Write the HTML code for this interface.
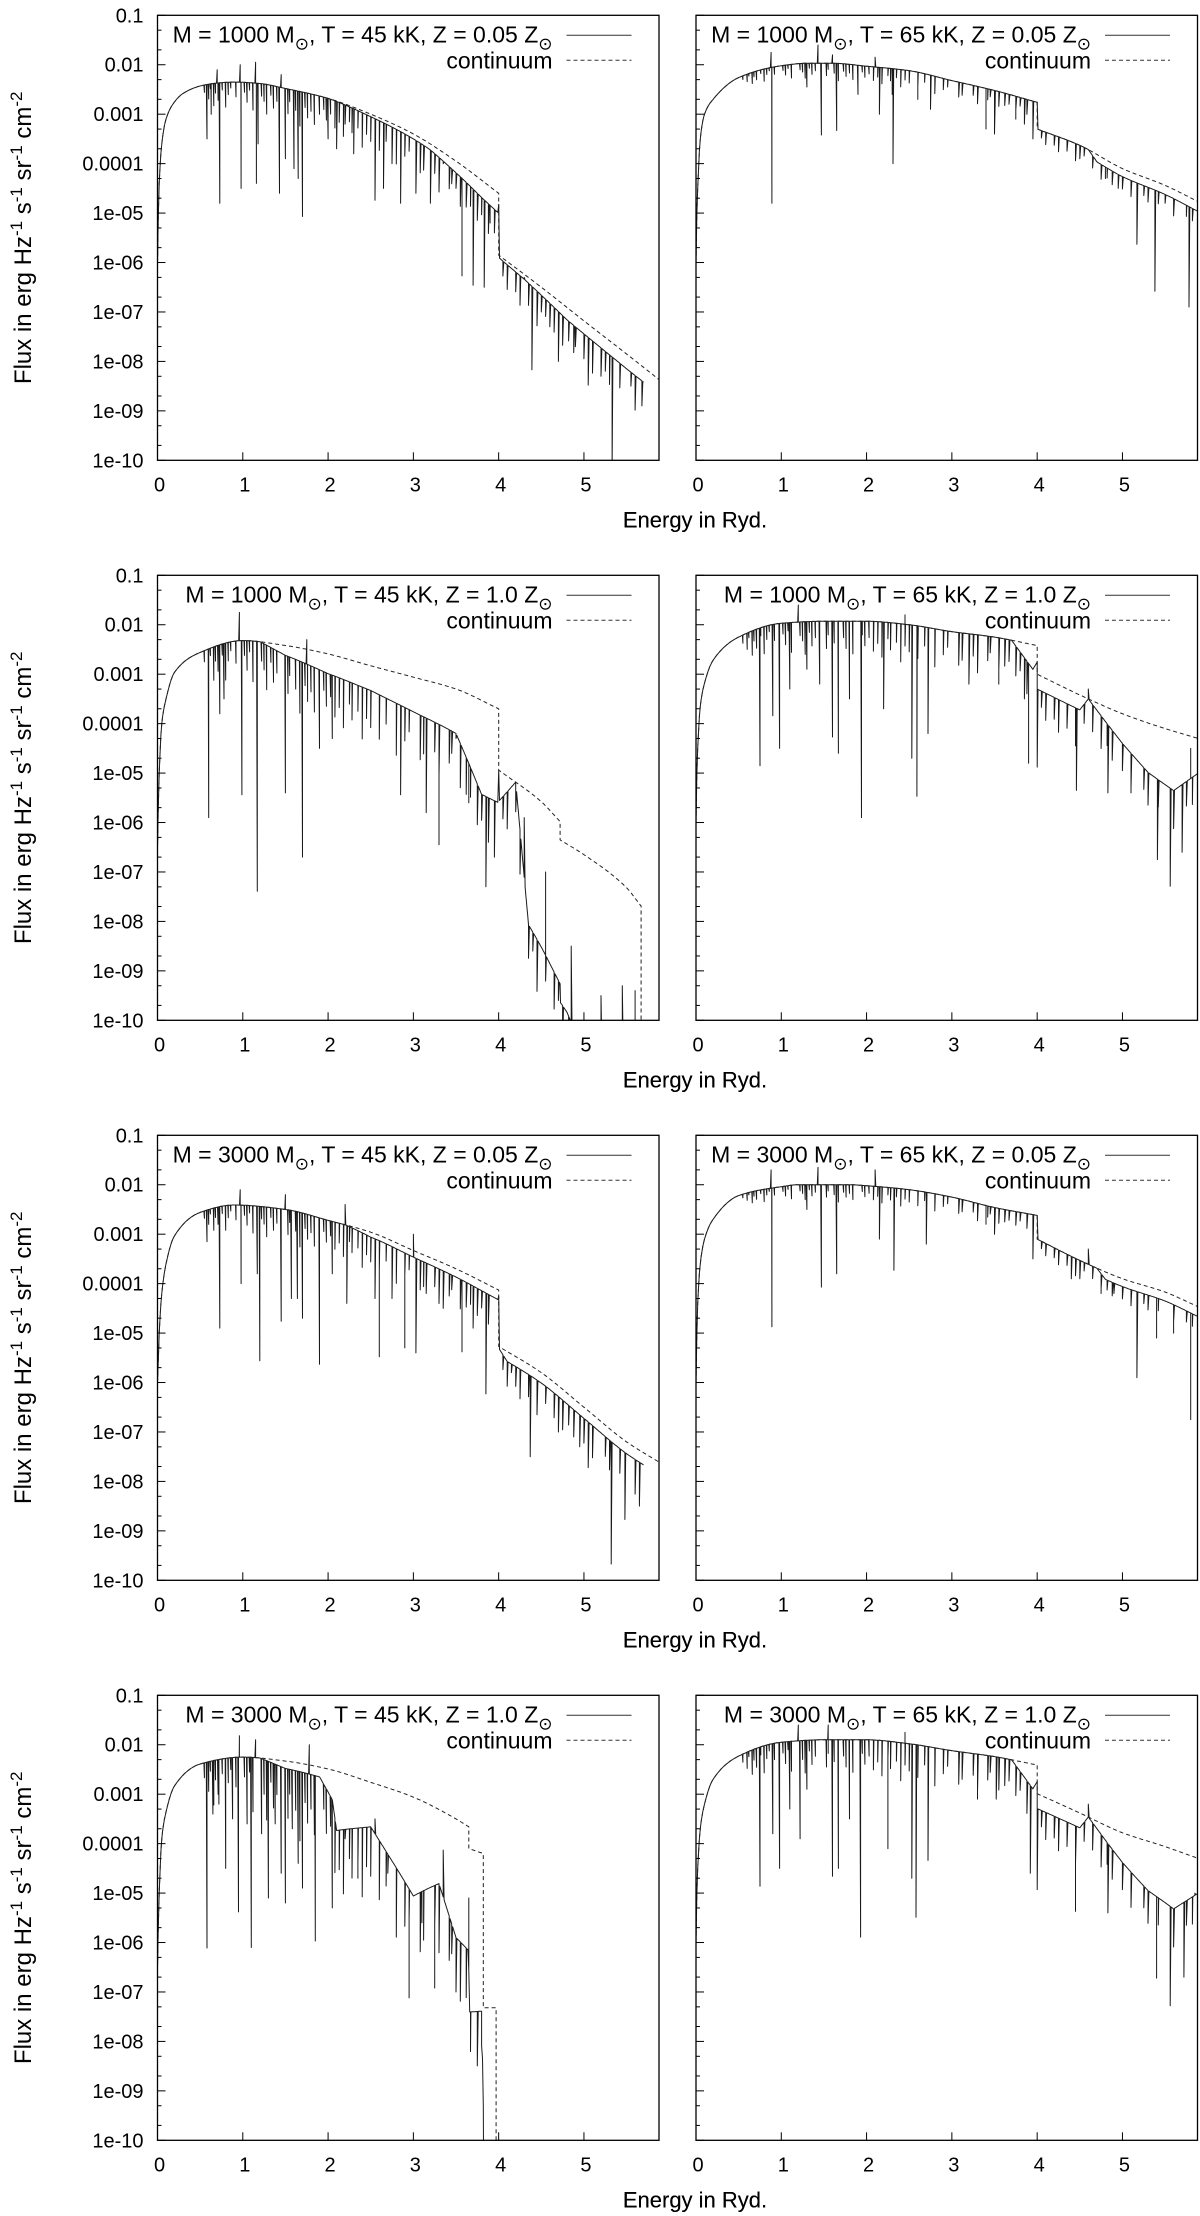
<!DOCTYPE html>
<html><head><meta charset="utf-8">
<style>
html,body{margin:0;padding:0;background:#fff;overflow:hidden;width:1200px;height:2216px;}
svg{display:block;font-family:"Liberation Sans","DejaVu Sans",sans-serif;overflow:hidden;}
</style></head>
<body>
<svg id="fig" width="1200" height="2216" viewBox="0 0 1200 2216" xmlns="http://www.w3.org/2000/svg"></svg>
<script>
// ---------- DATA (energy in Ryd, flux as log10) ----------
const panelTitles = ["1000|45|0.05","1000|65|0.05","1000|45|1.0","1000|65|1.0","3000|45|0.05","3000|65|0.05","3000|45|1.0","3000|65|1.0"];
const yTickLabels = ["0.1","0.01","0.001","0.0001","1e-05","1e-06","1e-07","1e-08","1e-09","1e-10"];
const xTickLabels = ["0","1","2","3","4","5"];

// weak-line texture (energy, depth in dex), scaled per panel
const minorE = [0.55,0.6,0.62,0.66,0.68,0.71,0.76,0.8,0.83,0.86,0.92,1.02,1.05,1.08,1.12,1.22,1.25,1.28,1.33,1.36,1.4,1.53,1.55,1.62,1.67,1.73,1.76,1.8,1.84,1.95,1.98,2.03,2.08,2.13,2.18,2.25,2.28,2.35,2.4,2.45,2.5,2.6,2.68,2.8,2.9,2.95,3.08,3.12,3.25,3.3,3.42,3.45,3.55,3.62,3.67,3.75,3.8,3.88,4.05,4.1,4.2,4.25,4.35,4.45,4.55,4.65,4.75,4.82,4.88,5.0,5.1,5.25,5.3,5.42,5.6,5.75,5.82];
const minorD = [0.15,0.3,0.1,0.45,0.2,0.35,0.15,0.5,0.25,0.12,0.3,0.2,0.4,0.15,0.55,0.25,0.35,0.6,0.2,0.45,0.3,0.5,0.25,0.4,0.7,0.3,0.5,0.35,0.6,0.25,0.45,0.3,0.55,0.4,0.65,0.3,0.5,0.35,0.7,0.4,0.5,0.6,0.35,0.7,0.45,0.3,0.6,0.5,0.4,0.7,0.45,0.3,0.6,0.5,0.4,0.55,0.35,0.6,0.3,0.5,0.4,0.6,0.45,0.7,0.35,0.5,0.6,0.4,0.55,0.5,0.65,0.4,0.6,0.5,0.7,0.45,0.5];
const minorScale = [1.0,0.5,1.5,1.1,1.0,0.5,2.0,1.1];

// Panel A: 1000 Msun, 45 kK, 0.05 Z
const contE_A = [0,0.01,0.02,0.05,0.1,0.2,0.3,0.5,0.7,0.9,1.2,1.5,2,2.5,3,3.5,4,4,4.5,5,5.5,5.89];
const contF_A = [-6,-5,-4.4,-3.6,-3.1,-2.75,-2.58,-2.43,-2.37,-2.35,-2.38,-2.48,-2.68,-3.0,-3.4,-3.95,-4.6,-5.85,-6.5,-7.18,-7.85,-8.38];
const offE_A = [0,2,2.5,3.2,3.8,3.99,4.01,4.3,4.8,5.5,5.9];
const offV_A = [0,0,-0.05,-0.12,-0.35,-0.4,-0.05,-0.1,-0.25,-0.3,-0.3];
const lineE_A = [0.58,0.63,0.7,0.73,0.97,0.98,1.15,1.16,1.18,1.43,1.45,1.5,1.6,1.65,1.7,1.9,2.0,2.1,2.2,2.3,2.55,2.65,2.75,2.85,3.03,3.2,3.35,3.5,3.57,3.7,3.83,3.9,3.95,4.3,4.39,4.5,4.6,4.7,4.9,5.05,5.2,5.33,5.55,5.68];
const lineF_A = [-3.5,-3.0,-2.1,-4.8,-2.0,-4.5,-1.95,-4.4,-3.6,-4.6,-2.2,-3.9,-4.1,-4.3,-5.07,-3.0,-3.5,-3.7,-3.2,-3.8,-4.74,-4.5,-4.0,-4.8,-4.6,-4.8,-4.0,-4.5,-6.27,-6.46,-6.5,-5.2,-5.4,-6.3,-8.17,-7.0,-7.3,-8.0,-7.7,-8.48,-8.3,-10.2,-8.5,-8.9];
const specMax_A = 5.7;

// Panel B: 1000 Msun, 65 kK, 0.05 Z
const contE_B = [0,0.01,0.02,0.05,0.1,0.2,0.5,1.0,1.3,1.6,2,2.5,3,3.5,4,4,4.5,5,5.5,5.89];
const contF_B = [-6,-5,-4.5,-3.5,-3.0,-2.7,-2.26,-2.02,-1.97,-1.97,-2.03,-2.12,-2.32,-2.52,-2.76,-3.3,-3.63,-4.1,-4.44,-4.77];
const offE_B = [0,4.6,4.7,5.9];
const offV_B = [0,0,-0.15,-0.2];
const lineE_B = [0.88,0.89,1.3,1.43,1.47,1.6,1.65,1.9,2.1,2.15,2.3,2.31,2.6,2.75,3.4,3.5,3.75,3.85,3.95,4.5,4.8,4.95,5.17,5.38,5.5,5.6,5.78,5.89];
const lineF_B = [-1.75,-4.8,-2.45,-1.6,-3.42,-1.8,-3.33,-2.6,-1.85,-3.0,-2.6,-4.0,-2.7,-2.9,-3.3,-3.4,-3.1,-3.2,-3.5,-3.9,-4.3,-4.5,-5.63,-6.58,-4.8,-5.0,-6.9,-5.0];
const specMax_B = 5.89;

// Panel C: 1000 Msun, 45 kK, 1.0 Z
const contE_C = [0,0.01,0.02,0.05,0.1,0.2,0.5,1.0,1.5,2,2.5,3,3.5,4,4,4.5,4.72,4.72,5,5.5,5.67,5.67];
const contF_C = [-6.5,-5.6,-5,-4.0,-3.5,-2.96,-2.56,-2.32,-2.42,-2.59,-2.83,-3.06,-3.3,-3.7,-4.94,-5.58,-5.98,-6.35,-6.65,-7.32,-7.69,-10.5];
const offE_C = [0,1.2,1.5,2,2.5,3,3.5,3.8,3.99,4.01,4.2,4.35,4.6,4.8,5.0,5.67];
const offV_C = [0,0,-0.2,-0.4,-0.5,-0.7,-0.9,-1.9,-1.9,-0.6,0,-2.7,-3.1,-3.4,-4.0,-3.0];
const lineE_C = [0.6,0.73,0.78,0.96,0.99,1.17,1.5,1.7,1.75,1.9,2.05,2.6,2.85,3.15,3.3,3.5,3.65,3.85,3.95,4.3,4.4,4.55,4.7,4.85,5.05,5.2,5.35,5.45,5.6];
const lineF_C = [-5.9,-3.8,-3.5,-1.75,-5.44,-7.39,-5.4,-6.7,-2.3,-4.5,-4.3,-4.0,-5.44,-5.8,-6.45,-4.3,-5.6,-7.3,-6.7,-5.9,-8.6,-7.0,-9.6,-8.5,-10.5,-9.5,-10.5,-9.3,-9.4];
const specMax_C = 5.67;

// Panel D: 1000 Msun, 65 kK, 1.0 Z
const contE_D = [0,0.01,0.02,0.05,0.1,0.2,0.5,1.0,1.5,2.0,2.5,3,3.5,4,4,4.5,5,5.5,5.89];
const contF_D = [-6,-5,-4.5,-3.65,-3.18,-2.72,-2.25,-1.97,-1.93,-1.93,-2.0,-2.14,-2.25,-2.42,-3.0,-3.42,-3.8,-4.1,-4.3];
const offE_D = [0,3.7,3.95,4.01,4.5,4.6,5.0,5.3,5.6,5.89];
const offV_D = [0,0,-0.5,-0.3,-0.3,0,-0.6,-1.0,-1.2,-0.7];
const lineE_D = [0.75,0.9,0.98,1.1,1.2,1.3,1.45,1.6,1.67,1.8,1.94,2.2,2.45,2.53,2.59,2.72,3.2,3.55,3.85,3.9,4.0,4.46,4.6,4.83,5.0,5.1,5.41,5.56,5.7,5.8];
const lineF_D = [-4.85,-3.84,-4.5,-3.3,-1.6,-2.9,-3.2,-4.27,-4.6,-3.5,-5.9,-3.7,-1.8,-4.7,-5.47,-4.2,-3.2,-3.2,-3.5,-4.8,-4.88,-5.35,-3.3,-5.4,-4.6,-5.4,-6.75,-7.29,-6.6,-4.5];
const specMax_D = 5.89;

// Panel E: 3000 Msun, 45 kK, 0.05 Z
const contE_E = [0,0.01,0.02,0.05,0.1,0.2,0.5,0.9,1.5,2,2.5,3,3.5,4,4,4.5,5,5.5,5.89];
const contF_E = [-6,-5.5,-5,-4.2,-3.6,-3.03,-2.56,-2.41,-2.5,-2.72,-2.96,-3.33,-3.7,-4.13,-5.27,-5.8,-6.5,-7.2,-7.62];
const offE_E = [0,2.2,2.5,3.99,4.01,4.1,5.9];
const offV_E = [0,0,-0.1,-0.2,-0.05,-0.2,-0.25];
const lineE_E = [0.58,0.73,0.97,0.98,1.17,1.2,1.45,1.5,1.57,1.64,1.7,1.9,2.05,2.2,2.22,2.55,2.6,2.75,2.9,3.0,3.03,3.15,3.35,3.57,3.7,3.85,4.15,4.37,4.55,4.7,4.95,5.05,5.32,5.48,5.65];
const lineF_E = [-3.15,-4.9,-2.1,-4.0,-3.8,-5.56,-4.76,-2.2,-4.3,-4.3,-4.7,-5.63,-3.8,-2.4,-4.4,-4.3,-5.48,-4.3,-5.3,-3.0,-5.4,-4.2,-4.5,-5.38,-4.9,-6.23,-5.8,-7.5,-6.2,-7.0,-7.3,-7.72,-9.67,-8.77,-8.5];
const specMax_E = 5.7;

// Panel F: 3000 Msun, 65 kK, 0.05 Z
const contE_F = [0,0.01,0.02,0.05,0.1,0.2,0.5,1.0,1.2,1.8,2,2.5,3,3.5,4,4,4.5,5,5.5,5.89];
const contF_F = [-6,-5,-4.4,-3.6,-3.1,-2.7,-2.22,-2.04,-2.0,-2.0,-2.02,-2.1,-2.25,-2.46,-2.62,-3.1,-3.53,-3.9,-4.17,-4.47];
const offE_F = [0,4.7,4.8,5.9];
const offV_F = [0,0,-0.15,-0.2];
const lineE_F = [0.88,0.89,1.3,1.43,1.47,1.65,2.1,2.15,2.32,2.7,3.4,3.5,3.95,4.4,4.5,4.6,4.75,4.9,5.17,5.4,5.6,5.8,5.89];
const lineF_F = [-1.7,-4.87,-2.5,-1.65,-4.07,-3.8,-1.7,-3.1,-3.73,-3.2,-2.8,-3.0,-3.5,-3.9,-3.9,-3.3,-4.2,-4.2,-5.9,-5.1,-5.0,-6.75,-5.5];
const specMax_F = 5.89;

// Panel G: 3000 Msun, 45 kK, 1.0 Z
const contE_G = [0,0.01,0.02,0.05,0.1,0.2,0.5,1.0,1.5,2,2.5,3,3.5,3.65,3.65,3.82,3.82,3.97,3.97];
const contF_G = [-6.5,-5.6,-5,-3.9,-3.36,-2.83,-2.39,-2.25,-2.33,-2.49,-2.76,-3.06,-3.5,-3.66,-4.1,-4.2,-7.32,-7.32,-10.5];
const offE_G = [0,1.2,1.5,1.9,2.05,2.1,2.5,3.0,3.3,3.5,3.64,3.66,3.8,3.84];
const offV_G = [0,0,-0.15,-0.2,-0.6,-1.2,-0.9,-2.0,-1.5,-2.4,-2.5,-3.3,-3.2,-7];
const lineE_G = [0.58,0.65,0.72,0.8,0.88,0.95,0.96,1.05,1.1,1.15,1.22,1.3,1.38,1.45,1.5,1.58,1.65,1.7,1.78,1.85,2.05,2.2,2.35,2.55,2.7,2.95,3.1,3.25,3.35,3.5,3.65];
const lineF_G = [-6.11,-3.4,-3.2,-4.5,-3.5,-5.38,-1.82,-3.6,-6.1,-1.9,-3.8,-5.1,-3.6,-4.6,-5.2,-3.7,-4.4,-4.9,-2.0,-5.97,-5.3,-3.9,-4.7,-3.5,-4.6,-7.12,-5.6,-6.92,-4.13,-7.0,-5.1];
const specMax_G = 3.84;

// Panel H: 3000 Msun, 65 kK, 1.0 Z
const contE_H = [0,0.01,0.02,0.05,0.1,0.2,0.5,1.0,1.5,2.0,2.5,3,3.5,4,4,4.5,5,5.5,5.89];
const contF_H = [-6,-5,-4.5,-3.7,-3.2,-2.7,-2.23,-1.95,-1.9,-1.9,-1.98,-2.12,-2.24,-2.41,-2.99,-3.38,-3.78,-4.06,-4.3];
const offE_H = [0,3.7,3.95,4.01,4.5,4.6,5.0,5.3,5.6,5.89];
const offV_H = [0,0,-0.5,-0.3,-0.3,0,-0.6,-1.0,-1.2,-0.7];
const lineE_H = [0.75,0.9,0.98,1.1,1.2,1.22,1.3,1.55,1.6,1.67,1.8,1.93,2.25,2.45,2.53,2.58,2.72,3.3,3.52,3.92,4.0,4.45,4.6,4.83,5.1,5.4,5.56,5.72,5.85];
const lineF_H = [-4.86,-3.8,-4.5,-3.3,-1.6,-3.9,-2.9,-1.6,-4.66,-4.5,-3.5,-5.89,-4.1,-1.75,-4.7,-5.49,-4.34,-3.1,-3.1,-4.6,-4.93,-5.37,-3.2,-5.4,-4.7,-6.72,-7.28,-6.7,-5.0];
const specMax_H = 5.89;

// ---------- RENDERING ----------
const SVGNS = "http://www.w3.org/2000/svg";
const fig = document.getElementById("fig");
const panels = [
  {cE:contE_A,cF:contF_A,oE:offE_A,oV:offV_A,lE:lineE_A,lF:lineF_A,sm:specMax_A},
  {cE:contE_B,cF:contF_B,oE:offE_B,oV:offV_B,lE:lineE_B,lF:lineF_B,sm:specMax_B},
  {cE:contE_C,cF:contF_C,oE:offE_C,oV:offV_C,lE:lineE_C,lF:lineF_C,sm:specMax_C},
  {cE:contE_D,cF:contF_D,oE:offE_D,oV:offV_D,lE:lineE_D,lF:lineF_D,sm:specMax_D},
  {cE:contE_E,cF:contF_E,oE:offE_E,oV:offV_E,lE:lineE_E,lF:lineF_E,sm:specMax_E},
  {cE:contE_F,cF:contF_F,oE:offE_F,oV:offV_F,lE:lineE_F,lF:lineF_F,sm:specMax_F},
  {cE:contE_G,cF:contF_G,oE:offE_G,oV:offV_G,lE:lineE_G,lF:lineF_G,sm:specMax_G},
  {cE:contE_H,cF:contF_H,oE:offE_H,oV:offV_H,lE:lineE_H,lF:lineF_H,sm:specMax_H}
];
const COLX = [157.5, 696];
const ROWY = [15.3, 575.3, 1135.3, 1695.3];
const PW = 501.5, PH = 445, XMAX = 5.88;
const FS = 20;
const LFS = 23;

function mk(tag, attrs, parent){
  const e = document.createElementNS(SVGNS, tag);
  for (const k in attrs) e.setAttribute(k, attrs[k]);
  (parent||fig).appendChild(e);
  return e;
}
function interp(xs, ys, x){
  if (x <= xs[0]) return ys[0];
  for (let i=0;i<xs.length-1;i++){
    if (x >= xs[i] && x <= xs[i+1] && xs[i+1] > xs[i]){
      return ys[i] + (ys[i+1]-ys[i])*(x-xs[i])/(xs[i+1]-xs[i]);
    }
  }
  return ys[ys.length-1];
}
function makeRuns(xs, ys){
  const runs = []; let cur = {x:[xs[0]], y:[ys[0]]};
  for (let i=1;i<xs.length;i++){
    if (xs[i] === xs[i-1]) { runs.push(cur); cur = {x:[xs[i]], y:[ys[i]]}; }
    else { cur.x.push(xs[i]); cur.y.push(ys[i]); }
  }
  runs.push(cur);
  runs.forEach(r => {
    const n = r.x.length, d = [], m = new Array(n).fill(0);
    for (let i=0;i<n-1;i++) d.push((r.y[i+1]-r.y[i])/(r.x[i+1]-r.x[i]));
    if (n > 1) { m[0] = d[0]; m[n-1] = d[n-2]; }
    for (let i=1;i<n-1;i++){
      if (d[i-1]*d[i] <= 0) m[i] = 0;
      else { const h0 = r.x[i]-r.x[i-1], h1 = r.x[i+1]-r.x[i];
        const w1 = 2*h1+h0, w2 = h1+2*h0; m[i] = (w1+w2)/(w1/d[i-1]+w2/d[i]); }
    }
    r.m = m;
  });
  return runs;
}
function evalRun(r, x){
  const n = r.x.length;
  if (n === 1) return r.y[0];
  let i = 0; while (i < n-2 && x > r.x[i+1]) i++;
  const h = r.x[i+1]-r.x[i], t = Math.max(0, Math.min(1, (x-r.x[i])/h));
  const t2=t*t, t3=t2*t;
  return (2*t3-3*t2+1)*r.y[i] + (t3-2*t2+t)*h*r.m[i] + (-2*t3+3*t2)*r.y[i+1] + (t3-t2)*h*r.m[i+1];
}
function contAt(runs, x){
  for (let k=0;k<runs.length;k++){
    const r = runs[k];
    if (x <= r.x[r.x.length-1] || k === runs.length-1) return evalRun(r, x);
  }
}

panels.forEach((p, idx) => {
  const col = idx % 2, row = Math.floor(idx/2);
  const L = COLX[col], T = ROWY[row];
  const xs = e => L + e * PW / XMAX;
  const ys = f => T + (-1 - f) * PH / 9;
  const runs = makeRuns(p.cE, p.cF);
  const g = mk("g", {});
  
  
  const cid = "clip" + idx;
  const cp = mk("clipPath", {id: cid}, g);
  mk("rect", {x: L, y: T, width: PW, height: PH}, cp);

  // spectrum
  const base = e => contAt(runs, e) + interp(p.oE, p.oV, e);
  const pts = [];
  for (let e = 0; e <= p.sm + 1e-9; e += 0.01) pts.push([e, null]);
  [0.001,0.003,0.006].forEach(e => pts.push([e, null]));
  p.lE.forEach((e, i) => {
    const w = e < 3 ? 0.008 : 0.025;
    pts.push([e - w, null]); pts.push([e, p.lF[i]]); pts.push([e + w, null]);
  });
  minorE.forEach((e, i) => {
    if (e > p.sm) return;
    const w = e < 3 ? 0.006 : 0.02;
    pts.push([e - w, null]); pts.push([e, -minorD[i] * minorScale[idx], true]); pts.push([e + w, null]);
  });
  pts.sort((a, b) => a[0] - b[0]);
  let d = "";
  pts.forEach(([e, v, rel]) => {
    if (e < 0 || e > p.sm + 1e-9) return;
    const f = v === null ? base(e) : (rel ? base(e) + v : v);
    d += (d ? "L" : "M") + xs(e).toFixed(1) + "," + ys(f).toFixed(1);
  });
  const sp = mk("path", {d: d, fill: "none", stroke: "#1a1a1a", "stroke-width": 1, "stroke-linejoin": "round", "clip-path": "url(#" + cid + ")"}, g);
  
  

  // continuum
  let dc = "";
  runs.forEach(r => {
    const a = r.x[0], b = r.x[r.x.length-1];
    const steps = Math.max(1, Math.ceil((b - a) / 0.01));
    for (let s = 0; s <= steps; s++){
      const e = a + (b - a) * s / steps;
      dc += (dc ? "L" : "M") + xs(e).toFixed(1) + "," + ys(evalRun(r, e)).toFixed(1);
    }
  });
  const cl = mk("path", {d: dc, fill: "none", stroke: "#222", "stroke-width": 1, "stroke-dasharray": "4,3", "clip-path": "url(#" + cid + ")"}, g);
  
  

  // frame
  const fr = mk("rect", {x: L, y: T, width: PW, height: PH, fill: "none", stroke: "#000", "stroke-width": 1.3}, g);
  
  

  // y ticks
  yTickLabels.forEach((lab, k) => {
    const f = -1 - k;
    mk("line", {x1: L, x2: L + 8, y1: ys(f), y2: ys(f), stroke: "#000", "stroke-width": 1}, g);
    if (k < 9) {
      [Math.log10(5), Math.log10(2)].forEach(m => {
        const yy = ys(f - 1 + m);
        mk("line", {x1: L, x2: L + 4, y1: yy, y2: yy, stroke: "#000", "stroke-width": 1}, g);
      });
    }
    if (col === 0) {
      const t = mk("text", {x: L - 14, y: ys(f) + 7, "text-anchor": "end", "font-size": FS, fill: "#000"}, g);
      t.textContent = lab;
      
      
    }
  });
  // x ticks
  xTickLabels.forEach((lab, k) => {
    const xx = xs(k);
    mk("line", {x1: xx, x2: xx, y1: T + PH, y2: T + PH - 8, stroke: "#000", "stroke-width": 1}, g);
    const t = mk("text", {x: xx + 2, y: T + PH + 31, "text-anchor": "middle", "font-size": FS, fill: "#000"}, g);
    t.textContent = lab;
    
    
  });
  // x axis title
  const xt = mk("text", {x: 695, y: T + PH + 67, "text-anchor": "middle", "font-size": 22, fill: "#000"}, g);
  xt.textContent = "Energy in Ryd.";
  
  

  // legend
  const parts = panelTitles[idx].split("|");
  const lt = mk("text", {x: L + 395, y: T + 27, "text-anchor": "end", "font-size": LFS, fill: "#000"}, g);
  
  
  const s1 = mk("tspan", {}, lt); s1.textContent = "M = " + parts[0] + " M";
  const s2 = mk("tspan", {dy: 7, "font-size": 17}, lt); s2.textContent = "⊙";
  const s3 = mk("tspan", {dy: -7}, lt); s3.textContent = ", T = " + parts[1] + " kK, Z = " + parts[2] + " Z";
  const s4 = mk("tspan", {dy: 7, "font-size": 17}, lt); s4.textContent = "⊙";
  mk("line", {x1: L + 409, x2: L + 474, y1: T + 20, y2: T + 20, stroke: "#333", "stroke-width": 1}, g);
  const ct = mk("text", {x: L + 395, y: T + 53, "text-anchor": "end", "font-size": LFS, fill: "#000"}, g);
  ct.textContent = "continuum";
  
  
  mk("line", {x1: L + 409, x2: L + 474, y1: T + 45, y2: T + 45, stroke: "#333", "stroke-width": 1, "stroke-dasharray": "4,3"}, g);

  // y axis title (left column)
  if (col === 0) {
    const cy = T + PH / 2;
    const yt = mk("text", {x: 0, y: 0, "text-anchor": "middle", "font-size": 24, fill: "#000", transform: "translate(31," + cy + ") rotate(-90)"}, g);
    
    
    const segs = [["Flux in erg Hz", 0], ["-1", 1], [" s", 0], ["-1", 1], [" sr", 0], ["-1", 1], [" cm", 0], ["-2", 1]];
    let prevSup = 0;
    segs.forEach(([txt, sup]) => {
      const a = {};
      if (sup && !prevSup) a.dy = -9;
      if (!sup && prevSup) a.dy = 9;
      if (sup) a["font-size"] = 17;
      const ts = mk("tspan", a, yt);
      ts.textContent = txt;
      prevSup = sup;
    });
  }
});
</script>
</body></html>
